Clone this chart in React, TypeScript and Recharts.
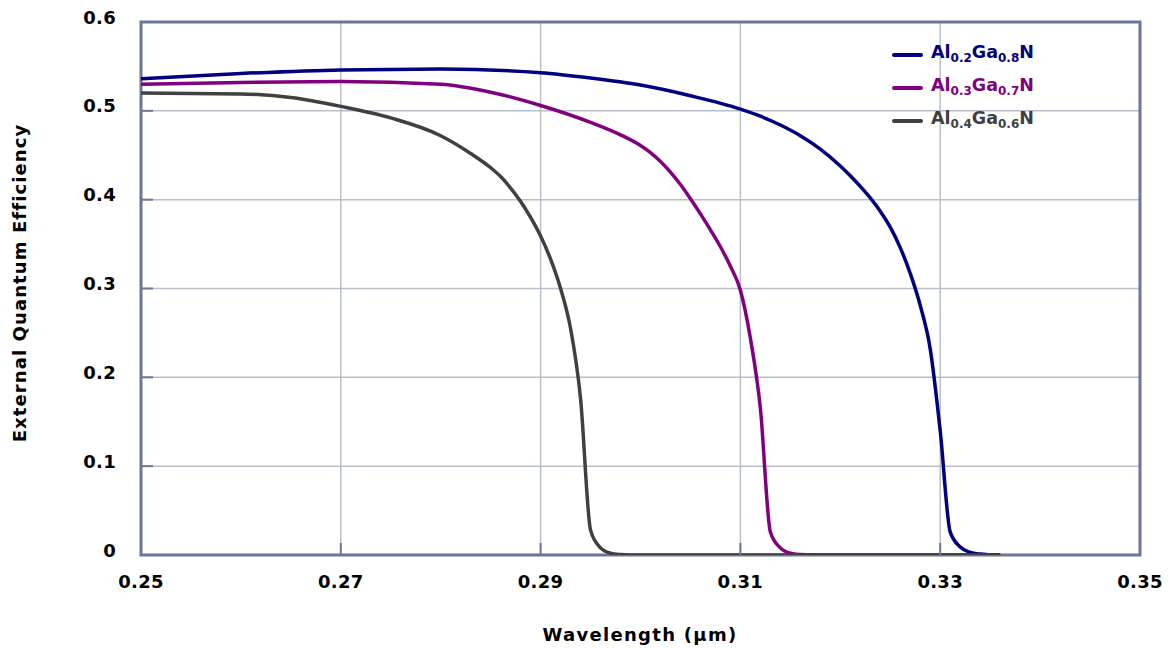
import React from "react";
import {
  LineChart,
  Line,
  XAxis,
  YAxis,
  CartesianGrid,
  ReferenceArea,
  Legend,
} from "recharts";

// ---- data ----
const xTicks = [0.25, 0.27, 0.29, 0.31, 0.33, 0.35];
const yTicks = [0, 0.1, 0.2, 0.3, 0.4, 0.5, 0.6];

const al02Wavelength = [0.25, 0.26, 0.27, 0.28, 0.29, 0.295, 0.3, 0.305, 0.31, 0.312, 0.314, 0.316, 0.318, 0.32, 0.321, 0.322, 0.323, 0.324, 0.325, 0.326, 0.327, 0.328, 0.329, 0.33, 0.331, 0.332, 0.333, 0.334, 0.335, 0.336];
const al02Eqe = [0.536, 0.542, 0.546, 0.547, 0.543, 0.537, 0.529, 0.517, 0.502, 0.494, 0.484, 0.472, 0.457, 0.438, 0.427, 0.415, 0.402, 0.387, 0.369, 0.346, 0.317, 0.281, 0.232, 0.14, 0.026, 0.009, 0.003, 0.001, 0.0003, 0];

const al03Wavelength = [0.25, 0.26, 0.27, 0.28, 0.285, 0.29, 0.295, 0.298, 0.3, 0.301, 0.302, 0.303, 0.304, 0.305, 0.306, 0.307, 0.308, 0.309, 0.31, 0.311, 0.312, 0.313, 0.314, 0.315, 0.316, 0.317, 0.336];
const al03Eqe = [0.53, 0.532, 0.533, 0.53, 0.521, 0.506, 0.487, 0.473, 0.461, 0.453, 0.443, 0.431, 0.417, 0.401, 0.384, 0.366, 0.347, 0.325, 0.298, 0.244, 0.165, 0.026, 0.008, 0.002, 0.0005, 0, 0];

const al04Wavelength = [0.25, 0.26, 0.265, 0.27, 0.275, 0.28, 0.283, 0.285, 0.286, 0.287, 0.288, 0.289, 0.29, 0.291, 0.292, 0.293, 0.294, 0.295, 0.296, 0.297, 0.298, 0.299, 0.336];
const al04Eqe = [0.52, 0.519, 0.515, 0.505, 0.492, 0.472, 0.452, 0.436, 0.426, 0.413, 0.398, 0.38, 0.359, 0.333, 0.3, 0.255, 0.176, 0.028, 0.008, 0.002, 0.0005, 0, 0];

const seriesNames = [
  { al: "0.2", ga: "0.8" },
  { al: "0.3", ga: "0.7" },
  { al: "0.4", ga: "0.6" },
];
const seriesColors = ["#000080", "#800080", "#404040"];

const zip = (xs: number[], ys: number[]) => xs.map((x, i) => ({ x, y: ys[i] }));
const seriesData = [
  zip(al02Wavelength, al02Eqe),
  zip(al03Wavelength, al03Eqe),
  zip(al04Wavelength, al04Eqe),
];

const FONT = "'DejaVu Sans', Verdana, sans-serif";
const BORDER = "#6b7698";
const GRID = "#b7bfca";

const XTick = (props: any) => {
  const { x, y, payload } = props;
  return (
    <g>
      <line x1={x} x2={x} y1={y - 12} y2={y} stroke={BORDER} strokeWidth={2} />
      <text x={x} y={y + 33} textAnchor="middle" fontFamily={FONT} fontWeight="bold" fontSize={18} letterSpacing={0.3} fill="#000">
        {Number(payload.value).toFixed(2)}
      </text>
    </g>
  );
};

const YTick = (props: any) => {
  const { x, y, payload } = props;
  const v = Number(payload.value);
  const label = v === 0 ? "0" : v.toFixed(1);
  return (
    <g>
      <line x1={x} x2={x + 12} y1={y} y2={y} stroke={BORDER} strokeWidth={2} />
      <text x={x - 25} y={y + 1.5} textAnchor="end" fontFamily={FONT} fontWeight="bold" fontSize={18} letterSpacing={0.3} fill="#000">
        {label}
      </text>
    </g>
  );
};

const LegendContent = () => (
  <div style={{ fontFamily: FONT, fontWeight: "bold" }}>
    {seriesNames.map((n, i) => (
      <div key={i} style={{ display: "flex", alignItems: "center", height: 33, color: seriesColors[i] }}>
        <span style={{ display: "inline-block", width: 31, height: 4, background: seriesColors[i], marginRight: 8, borderRadius: 2 }} />
        <span style={{ fontSize: 17.5, lineHeight: "20px", whiteSpace: "nowrap" }}>
          Al<span style={{ fontSize: 12, verticalAlign: -4 }}>{n.al}</span>Ga
          <span style={{ fontSize: 12, verticalAlign: -4 }}>{n.ga}</span>N
        </span>
      </div>
    ))}
  </div>
);

export default function App() {
  return (
    <div style={{ position: "absolute", left: 0, top: 0, width: 1168, height: 649, background: "#fff" }}>
      <LineChart width={1168} height={649} margin={{ top: 22, right: 28, left: 0, bottom: 0 }}>
        <CartesianGrid stroke={GRID} strokeWidth={1.5} verticalValues={xTicks} horizontalValues={yTicks} />
        <XAxis
          type="number"
          dataKey="x"
          domain={[0.25, 0.35]}
          ticks={xTicks}
          allowDataOverflow
          height={94}
          tickSize={0}
          tickMargin={0}
          axisLine={false}
          tickLine={false}
          tick={<XTick />}
          interval={0}
          label={{
            content: () => (
              <text x={640} y={641} textAnchor="middle" fontFamily={FONT} fontWeight="bold" fontSize={18} letterSpacing={1.3} fill="#000">
                Wavelength (µm)
              </text>
            ),
          }}
        />
        <YAxis
          type="number"
          domain={[0, 0.6]}
          ticks={yTicks}
          allowDataOverflow
          width={141}
          tickSize={0}
          tickMargin={0}
          axisLine={false}
          tickLine={false}
          tick={<YTick />}
          interval={0}
          label={{
            content: () => (
              <text transform="translate(26,283) rotate(-90)" textAnchor="middle" fontFamily={FONT} fontWeight="bold" fontSize={18} letterSpacing={1.1} fill="#000">
                External Quantum Efficiency
              </text>
            ),
          }}
        />
        <ReferenceArea x1={0.25} x2={0.35} y1={0} y2={0.6} fill="none" stroke={BORDER} strokeWidth={3} />
        {seriesData.map((d, i) => (
          <Line
            key={i}
            data={d}
            dataKey="y"
            type="monotone"
            stroke={seriesColors[i]}
            strokeWidth={3.5}
            dot={false}
            activeDot={false}
            isAnimationActive={false}
            name={`series${i}`}
          />
        ))}
        <Legend
          layout="vertical"
          align="center"
          verticalAlign="middle"
          content={<LegendContent />}
          wrapperStyle={{ left: 892, top: 38, width: 220 }}
        />
      </LineChart>
    </div>
  );
}
